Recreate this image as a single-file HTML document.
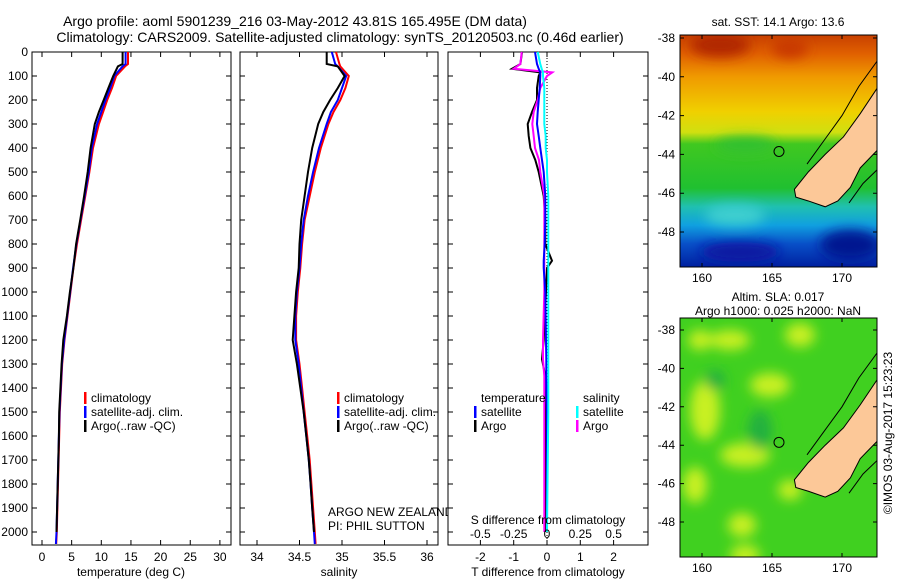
<!DOCTYPE html>
<html><head><meta charset="utf-8"><style>
html,body{margin:0;padding:0;background:#fff}
svg{display:block;font-family:"Liberation Sans",sans-serif}
text{font-size:12px;fill:#000}
</style></head><body>
<svg id="fig" width="900" height="580" viewBox="0 0 900 580">
<defs>
<linearGradient id="sstg" x1="0" y1="0" x2="0" y2="1">
<stop offset="0" stop-color="#c84000"/><stop offset="0.08" stop-color="#e06000"/>
<stop offset="0.18" stop-color="#f09a00"/><stop offset="0.33" stop-color="#f0d000"/>
<stop offset="0.42" stop-color="#d0e010"/><stop offset="0.47" stop-color="#40c820"/>
<stop offset="0.66" stop-color="#20c030"/><stop offset="0.74" stop-color="#20c0b0"/>
<stop offset="0.82" stop-color="#10a0e0"/><stop offset="0.9" stop-color="#0850c8"/>
<stop offset="1" stop-color="#0020a0"/></linearGradient>
<filter id="blur"><feGaussianBlur stdDeviation="6"/></filter>
<clipPath id="c1"><rect x="680" y="35" width="197" height="232"/></clipPath>
<clipPath id="c2"><rect x="680" y="318" width="197" height="239"/></clipPath>
</defs>
<text x="295" y="26" text-anchor="middle" style="font-size:14px">Argo profile: aoml 5901239_216 03-May-2012 43.81S 165.495E (DM data)</text>
<text x="340" y="42" text-anchor="middle" style="font-size:14px">Climatology: CARS2009. Satellite-adjusted climatology: synTS_20120503.nc (0.46d earlier)</text>
<g id="maps"></g>
<g id="plots"></g>
<text transform="translate(892,433) rotate(-90)" text-anchor="middle">©IMOS 03-Aug-2017 15:23:23</text>
</svg>
<script>
const depths=[0,50,60,100,150,200,250,300,400,500,600,700,800,900,1000,1100,1200,1300,1400,1500,1600,1700,1800,1900,2000,2050];
const tempClim=[14.5,14.5,14,12.5,11.8,11,10.3,9.6,8.6,8,7.3,6.6,5.9,5.3,4.8,4.3,3.8,3.4,3.2,3.0,2.9,2.8,2.7,2.6,2.5,2.4];
const tempSat=[14.1,14.1,13.6,12.2,11.5,10.7,10,9.3,8.4,7.9,7.2,6.5,5.8,5.25,4.75,4.25,3.75,3.35,3.15,2.95,2.85,2.75,2.65,2.55,2.45,2.35];
const tempArgo=[13.6,13.6,12.8,12.0,11.2,10.4,9.6,8.9,8.2,7.7,7.1,6.45,5.75,5.3,4.7,4.2,3.6,3.3,3.1,2.9,2.85,2.75,2.65,2.55,2.45,null];
const salClim=[34.93,34.97,34.98,35.08,35.04,34.98,34.9,34.84,34.75,34.68,34.62,34.56,34.53,34.51,34.48,34.46,34.46,34.5,34.53,34.56,34.59,34.62,34.64,34.66,34.68,34.69];
const salSat=[34.88,34.92,34.95,35.05,35.0,34.95,34.87,34.82,34.73,34.66,34.6,34.55,34.52,34.5,34.47,34.45,34.45,34.49,34.52,34.55,34.58,34.61,34.63,34.65,34.67,34.68];
const salArgo=[34.82,34.82,34.95,35.03,34.95,34.86,34.78,34.72,34.65,34.6,34.56,34.52,34.5,34.49,34.46,34.44,34.42,34.47,34.51,34.55,34.58,34.61,34.63,34.65,34.67,null];
const diffDepths=[0,50,70,85,100,150,200,250,300,350,400,450,500,600,700,800,870,900,1000,1200,1280,1350,1500,2000];
const tDiffArgo=[-0.75,-0.8,-1.05,-0.2,-0.25,-0.3,-0.3,-0.45,-0.58,-0.55,-0.5,-0.35,-0.25,-0.1,-0.05,-0.05,0.15,0.0,-0.03,-0.1,-0.15,-0.05,-0.03,-0.03];
const tDiffSat=[-0.36,-0.3,-0.25,-0.2,-0.2,-0.22,-0.25,-0.28,-0.3,-0.25,-0.2,-0.15,-0.1,-0.05,-0.05,-0.07,-0.1,-0.1,-0.05,-0.03,-0.02,-0.02,0,0];
const sDiffArgo=[-0.19,-0.2,-0.25,0.04,0.0,-0.05,-0.07,-0.1,-0.11,-0.1,-0.09,-0.06,-0.05,-0.02,-0.02,-0.02,-0.02,-0.02,-0.02,-0.03,-0.03,-0.02,-0.02,-0.02];
const sDiffSat=[-0.07,-0.05,-0.04,-0.03,-0.03,-0.02,-0.02,-0.02,-0.02,-0.01,-0.01,0,0,0.01,0.01,0.01,0.01,0.01,0.01,0.01,0.01,0.01,0.01,0.0];
const depthTicks=[0,100,200,300,400,500,600,700,800,900,1000,1100,1200,1300,1400,1500,1600,1700,1800,1900,2000];
const tempTicks=[0,5,10,15,20,25,30];
const salTicks=[34,34.5,35,35.5,36];
const tDiffTicks=[-2,-1,0,1,2];
const sDiffTicks=[-0.5,-0.25,0,0.25,0.5];
const latTicks=[-38,-40,-42,-44,-46,-48];
const lonTicks=[160,165,170];

const NS='http://www.w3.org/2000/svg';
function el(tag,attrs,parent,txt){const e=document.createElementNS(NS,tag);for(const k in attrs)e.setAttribute(k,attrs[k]);if(txt!==undefined)e.textContent=txt;parent.appendChild(e);return e;}
const plots=document.getElementById('plots');
const maps=document.getElementById('maps');
const TOP=52,BOT=545;
const yD=d=>TOP+d*0.24;
const xT=v=>42+v*5.93;
const xS=v=>257+(v-34)*85;
const xTD=v=>547+v*33.3;
const xSD=v=>547+v*133.2;

function panel(x0,x1,name){
  const r=el('rect',{x:x0,y:TOP,width:x1-x0,height:BOT-TOP,fill:'#fff',stroke:'#000','stroke-width':1},plots);
  
  
  depthTicks.forEach(d=>{
    const t=el('path',{d:`M${x0},${yD(d)}h5M${x1},${yD(d)}h-5`,stroke:'#000'},plots);
    
    
  });
}
function xticks(vals,fx,labels,ylab){
  vals.forEach((v,i)=>{
    const t=el('path',{d:`M${fx(v)},${TOP}v5M${fx(v)},${BOT}v-5`,stroke:'#000'},plots);
    
    
    if(labels){
      const l=el('text',{x:fx(v),y:ylab,'text-anchor':'middle'},plots,labels[i]);
      
      
    }
  });
}
function line(ds,vals,fx,color,name){
  const pts=[];ds.forEach((d,i)=>{if(vals[i]!==null)pts.push(fx(vals[i]).toFixed(1)+','+yD(d).toFixed(1));});
  const p=el('polyline',{points:pts.join(' '),fill:'none',stroke:color,'stroke-width':2},plots);
  
  
}
function legendEntry(x,y,color,label){
  const g=el('g',{},plots);
  
  
  if(color)el('rect',{x:x,y:y-10,width:2.5,height:12,fill:color},g);
  el('text',{x:x+7,y:y},g,label);
}
panel(32,231,'temperature-panel');
depthTicks.forEach(d=>{const l=el('text',{x:28,y:yD(d)+4,'text-anchor':'end'},plots,String(d));
  
  });
xticks(tempTicks,xT,tempTicks.map(String),561);
line(depths,tempClim,xT,'#f00','temp-climatology-line');
line(depths,tempSat,xT,'#00f','temp-satellite-line');
line(depths,tempArgo,xT,'#000','temp-argo-line');
el('text',{x:131,y:576,'text-anchor':'middle',},plots,'temperature (deg C)');
legendEntry(84,402,'#f00','climatology');legendEntry(84,416,'#00f','satellite-adj. clim.');legendEntry(84,430,'#000','Argo(..raw -QC)');
panel(240,438,'salinity-panel');
xticks(salTicks,xS,['34','34.5','35','35.5','36'],561);
line(depths,salClim,xS,'#f00','sal-climatology-line');
line(depths,salSat,xS,'#00f','sal-satellite-line');
line(depths,salArgo,xS,'#000','sal-argo-line');
el('text',{x:339,y:576,'text-anchor':'middle',},plots,'salinity');
legendEntry(337,402,'#f00','climatology');legendEntry(337,416,'#00f','satellite-adj. clim.');legendEntry(337,430,'#000','Argo(..raw -QC)');
el('text',{x:328,y:516,},plots,'ARGO NEW ZEALAND');
el('text',{x:328,y:530,},plots,'PI: PHIL SUTTON');
panel(448,648,'difference-panel');
xticks(tDiffTicks,xTD,['-2','-1','0','1','2'],561);
el('path',{d:`M${xTD(0)},${TOP}V${BOT}`,stroke:'#000','stroke-dasharray':'1,2',},plots);
line(diffDepths,tDiffArgo,xTD,'#000','tdiff-argo-line');
line(diffDepths,sDiffArgo,xSD,'#f0f','sdiff-argo-line');
line(diffDepths,tDiffSat,xTD,'#00f','tdiff-satellite-line');
line(diffDepths,sDiffSat,xSD,'#0ff','sdiff-satellite-line');
sDiffTicks.forEach((v,i)=>{const l=el('text',{x:xSD(v),y:538,'text-anchor':'middle'},plots,['-0.5','-0.25','0','0.25','0.5'][i]);
  
  });
el('text',{x:548,y:524,'text-anchor':'middle',},plots,'S difference from climatology');
el('text',{x:548,y:576,'text-anchor':'middle',},plots,'T difference from climatology');
legendEntry(474,402,null,'temperature');legendEntry(474,416,'#00f','satellite');legendEntry(474,430,'#000','Argo');
legendEntry(576,402,null,'salinity');legendEntry(576,416,'#0ff','satellite');legendEntry(576,430,'#f0f','Argo');

const mx=lon=>702+(lon-160)*14;
const land=[[172.5,-40.6],[171.3,-41.9],[170.1,-43.1],[168.8,-44.0],[167.6,-44.9],[166.6,-45.8],[166.7,-46.2],[167.6,-46.4],[168.8,-46.7],[169.7,-46.4],[170.6,-45.7],[171.3,-44.7],[172.5,-43.8]];
function drawMap(y0,h,yLat,clip,kind){
  const g=el('g',{'clip-path':`url(#${clip})`},maps);
  
  
  if(kind==='sst'){
    el('rect',{x:680,y:y0,width:197,height:h,fill:'url(#sstg)'},g);
    const b=el('g',{filter:'url(#blur)'},g);
    el('ellipse',{cx:720,cy:45,rx:30,ry:12,fill:'#b02800'},b);
    el('ellipse',{cx:790,cy:48,rx:18,ry:10,fill:'#c83800'},b);
    el('ellipse',{cx:745,cy:145,rx:30,ry:8,fill:'#30c030'},b);
    el('ellipse',{cx:735,cy:215,rx:30,ry:10,fill:'#40d0d0'},b);
    el('ellipse',{cx:740,cy:252,rx:40,ry:10,fill:'#0818a0'},b);
    el('ellipse',{cx:850,cy:245,rx:30,ry:15,fill:'#001890'},b);
  }else{
    el('rect',{x:680,y:y0,width:197,height:h,fill:'#40d020'},g);
    const b=el('g',{filter:'url(#blur)'},g);
    [[705,410,15,30],[695,485,12,18],[745,455,25,12],[770,385,20,12],[742,525,14,12],[800,335,15,12],[730,340,20,10],[745,555,15,10],[700,340,12,10],[790,490,12,10]].forEach(e=>el('ellipse',{cx:e[0],cy:e[1],rx:e[2],ry:e[3],fill:'#c8f020'},b));
    [[760,430,12,20],[715,380,10,10]].forEach(e=>el('ellipse',{cx:e[0],cy:e[1],rx:e[2],ry:e[3],fill:'#20b040'},b));
  }
  el('polygon',{points:land.map(p=>mx(p[0])+','+yLat(p[1])).join(' '),fill:'#fcc898',stroke:'#000','stroke-width':1},g);
  el('polyline',{points:[[172.5,-39.2],[171.2,-40.5],[170,-42],[168.8,-43.2],[167.5,-44.5]].map(p=>mx(p[0])+','+yLat(p[1])).join(' '),fill:'none',stroke:'#000'},g);
  el('polyline',{points:[[172.5,-44.8],[171.5,-45.5],[170.5,-46.5]].map(p=>mx(p[0])+','+yLat(p[1])).join(' '),fill:'none',stroke:'#000'},g);
  el('circle',{cx:mx(165.5),cy:yLat(-43.85),r:5,fill:'none',stroke:'#000'},g);
  const fr=el('rect',{x:680,y:y0,width:197,height:h,fill:'none',stroke:'#000'},maps);
  
  
  latTicks.forEach(v=>{
    el('path',{d:`M680,${yLat(v)}h4M877,${yLat(v)}h-4`,stroke:'#000'},maps);
    const l=el('text',{x:675,y:yLat(v)+4,'text-anchor':'end'},maps,String(v));
    
    
  });
  lonTicks.forEach(v=>{
    el('path',{d:`M${mx(v)},${y0}v4M${mx(v)},${y0+h}v-4`,stroke:'#000'},maps);
    const l=el('text',{x:mx(v),y:y0+h+15,'text-anchor':'middle'},maps,String(v));
    
    
  });
}
drawMap(35,232,lat=>38+(-38-lat)*19.4,'c1','sst');
drawMap(318,239,lat=>330+(-38-lat)*19.2,'c2','sla');
el('text',{x:778,y:26,'text-anchor':'middle',},maps,'sat. SST: 14.1 Argo: 13.6');
el('text',{x:778,y:301,'text-anchor':'middle',},maps,'Altim. SLA: 0.017');
el('text',{x:778,y:315,'text-anchor':'middle',},maps,'Argo h1000: 0.025 h2000: NaN');
</script>
</body></html>
